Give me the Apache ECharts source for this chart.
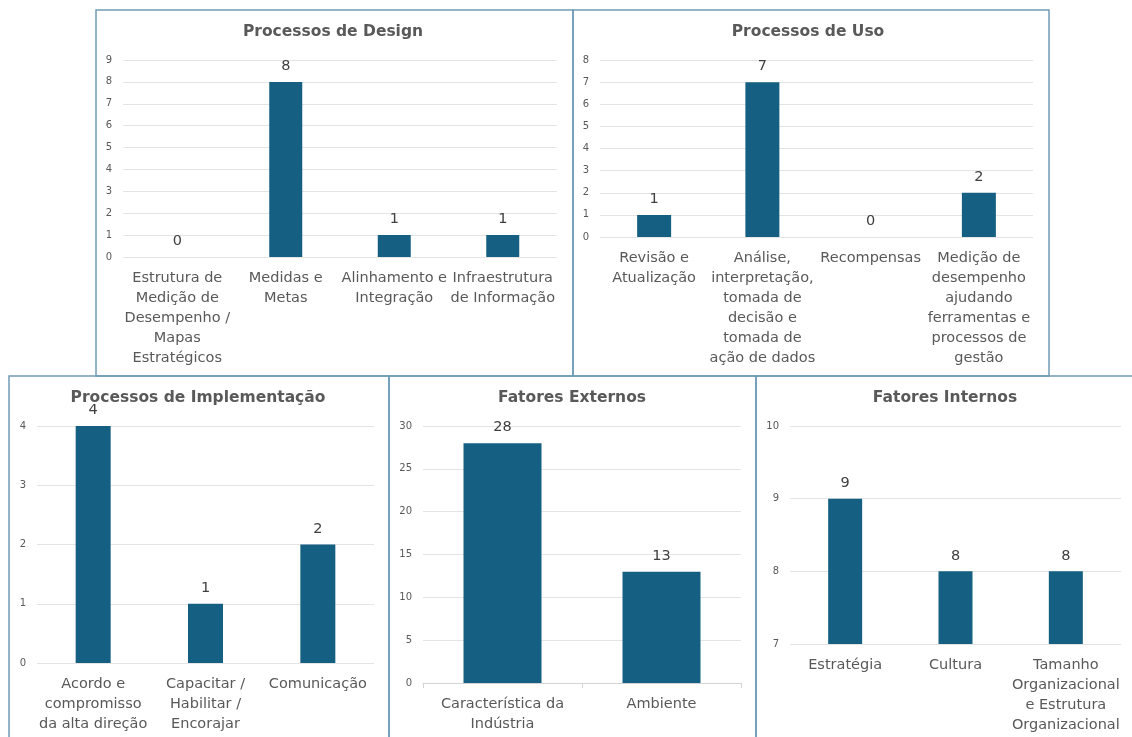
<!DOCTYPE html>
<html>
<head>
<meta charset="utf-8">
<script src="https://cdn.jsdelivr.net/npm/echarts@6/dist/echarts.min.js"></script>
<style>
  html, body { margin: 0; padding: 0; background: #fff; }
  #main { width: 1132px; height: 737px; }
</style>
</head>
<body>
<div id="main"></div>
<script>
// dados dos cinco gráficos
var designCats = ['Estrutura de\nMedição de\nDesempenho /\nMapas\nEstratégicos', 'Medidas e\nMetas', 'Alinhamento e\nIntegração', 'Infraestrutura\nde Informação'];
var designValues = [0, 8, 1, 1];

var usoCats = ['Revisão e\nAtualização', 'Análise,\ninterpretação,\ntomada de\ndecisão e\ntomada de\nação de dados', 'Recompensas', 'Medição de\ndesempenho\najudando\nferramentas e\nprocessos de\ngestão'];
var usoValues = [1, 7, 0, 2];

var implCats = ['Acordo e\ncompromisso\nda alta direção', 'Capacitar /\nHabilitar /\nEncorajar', 'Comunicação'];
var implValues = [4, 1, 2];

var extCats = ['Característica da\nIndústria', 'Ambiente'];
var extValues = [28, 13];

var intCats = ['Estratégia', 'Cultura', 'Tamanho\nOrganizacional\ne Estrutura\nOrganizacional'];
var intValues = [9, 8, 8];

var FONT = 'DejaVu Sans';
var BAR = '#156082';
var TEXT = '#595959';
var BORDER = '#6f9bb6';

// posição de cada painel (grid, moldura, título)
var panels = [
    { title: 'Processos de Design', cats: designCats, values: designValues,
      grid: [123, 60, 434, 197], box: [96, 10, 477, 366], titleX: 333, titleY: 32,
      min: 0, max: 9, interval: 1, barWidth: 33, axisLine: false },
    { title: 'Processos de Uso', cats: usoCats, values: usoValues,
      grid: [600, 60, 433, 177], box: [573, 10, 476, 366], titleX: 808, titleY: 32,
      min: 0, max: 8, interval: 1, barWidth: 34, axisLine: false },
    { title: 'Processos de Implementação', cats: implCats, values: implValues,
      grid: [37, 426, 337, 237], box: [9, 376, 380, 370], titleX: 198, titleY: 398,
      min: 0, max: 4, interval: 1, barWidth: 35, axisLine: false },
    { title: 'Fatores Externos', cats: extCats, values: extValues,
      grid: [423, 426, 318, 257], box: [389, 376, 367, 370], titleX: 572, titleY: 398,
      min: 0, max: 30, interval: 5, barWidth: 78, axisLine: true },
    { title: 'Fatores Internos', cats: intCats, values: intValues,
      grid: [790, 426, 331, 218], box: [756, 376, 390, 370], titleX: 945, titleY: 398,
      min: 7, max: 10, interval: 1, barWidth: 34, axisLine: false }
];

var grids = [], xAxes = [], yAxes = [], series = [], graphics = [];

panels.forEach(function (p, i) {
    grids.push({ left: p.grid[0], top: p.grid[1], width: p.grid[2], height: p.grid[3] });

    xAxes.push({
        type: 'category',
        gridIndex: i,
        data: p.cats,
        axisLine: { show: p.axisLine, lineStyle: { color: '#d4d4d4' } },
        axisTick: { show: p.axisLine, length: 5, lineStyle: { color: '#d4d4d4' } },
        axisLabel: {
            interval: 0,
            margin: 11,
            fontFamily: FONT,
            fontSize: 14.5,
            lineHeight: 20,
            color: TEXT
        }
    });

    yAxes.push({
        type: 'value',
        gridIndex: i,
        min: p.min,
        max: p.max,
        interval: p.interval,
        axisLine: { show: false },
        axisTick: { show: false },
        axisLabel: { fontFamily: FONT, fontSize: 10, color: TEXT, margin: 11 },
        splitLine: { lineStyle: { color: '#e4e4e4', width: 1 } }
    });

    series.push({
        type: 'bar',
        xAxisIndex: i,
        yAxisIndex: i,
        data: p.values,
        barWidth: p.barWidth,
        clip: true,
        itemStyle: { color: BAR },
        label: {
            show: true,
            position: 'top',
            distance: 8,
            fontFamily: FONT,
            fontSize: 14.5,
            color: '#404040'
        }
    });

    graphics.push({
        type: 'rect',
        shape: { x: p.box[0], y: p.box[1], width: p.box[2], height: p.box[3] },
        style: { fill: 'none', stroke: BORDER, lineWidth: 1.5 },
        z: 10
    });

    graphics.push({
        type: 'text',
        x: p.titleX,
        y: p.titleY,
        style: {
            text: p.title,
            font: 'bold 15.5px "' + FONT + '"',
            fill: TEXT,
            align: 'center',
            verticalAlign: 'middle',
            textAlign: 'center',
            textVerticalAlign: 'middle'
        },
        z: 10
    });
});

var chart = echarts.init(document.getElementById('main'));
chart.setOption({
    animation: false,
    backgroundColor: '#fff',
    grid: grids,
    xAxis: xAxes,
    yAxis: yAxes,
    series: series,
    graphic: { elements: graphics }
});
</script>
</body>
</html>
